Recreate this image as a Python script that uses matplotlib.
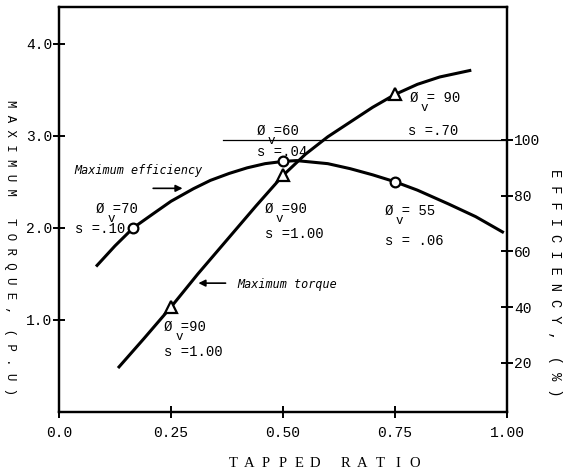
import numpy as np
import matplotlib.pyplot as plt

plt.rcParams['font.family'] = ['Liberation Mono', 'DejaVu Sans Mono']

# data
TorqueX = [0.134, 0.19, 0.25, 0.31, 0.375, 0.44, 0.50, 0.55, 0.60, 0.65, 0.70, 0.75, 0.80, 0.85, 0.917]
Torque = [0.49, 0.80, 1.14, 1.50, 1.87, 2.24, 2.57, 2.80, 2.99, 3.15, 3.31, 3.45, 3.56, 3.64, 3.71]
TorqueMarkX = [0.25, 0.50, 0.75]
TorqueMark = [1.14, 2.57, 3.45]

EffX = [0.085, 0.125, 0.166, 0.21, 0.25, 0.30, 0.338, 0.38, 0.42, 0.46, 0.50, 0.53, 0.60, 0.65, 0.70, 0.75, 0.80, 0.87, 0.93, 0.99]
Eff = [55, 62, 68.5, 73.5, 78, 82.5, 85.5, 88, 90, 91.5, 92.3, 92.6, 91.5, 89.7, 87.5, 85, 82, 77, 72.5, 67]
EffMarkX = [0.166, 0.50, 0.75]
EffMark = [68.5, 92.3, 85]

xTicks = [0.0, 0.25, 0.50, 0.75, 1.00]
xTickLabels = ["0.0", "0.25", "0.50", "0.75", "1.00"]
yTicks = [1.0, 2.0, 3.0, 4.0]
effTicks = [20, 40, 60, 80, 100]

# operating point labels: phi value, s value
PhiVals = ["=70", "=60", "=90", "= 55", "= 90", "=90"]
SVals = ["s =.10", "s =.04", "s =1.00", "s = .06", "s =.70", "s =1.00"]

fig = plt.figure(figsize=(5.64, 4.74), dpi=100)
ax = fig.add_axes([0.1046, 0.1308, 0.7943, 0.8544])
ax2 = ax.twinx()

# curves
ax.plot(TorqueX, Torque, color="black", lw=2.2, zorder=3)
ax.plot(TorqueMarkX, TorqueMark, ls="none", marker="^", ms=8, mfc="white",
        mec="black", mew=1.6, zorder=4)
ax2.plot(EffX, Eff, color="black", lw=2.2, zorder=3)
ax2.plot(EffMarkX, EffMark, ls="none", marker="o", ms=7, mfc="white",
         mec="black", mew=1.6, zorder=4)
ax2.plot([0.365, 1.0], [100, 100], color="black", lw=0.9)

ax.set_xlim(0, 1.0)
ax.set_ylim(0, 4.4)
ax2.set_ylim(2.4, 147.7)

ax.set_xticks(xTicks, xTickLabels)
ax.set_yticks(yTicks, ["1.0", "2.0", "3.0", "4.0"])
ax2.set_yticks(effTicks, [str(t) for t in effTicks])
for a in (ax, ax2):
    a.tick_params(direction="inout", length=8, width=1.4, labelsize=10.5)
    for s in a.spines.values():
        s.set_linewidth(1.6)
ax.tick_params(axis="x", pad=6)
ax.tick_params(axis="y", pad=1)
ax2.tick_params(axis="y", pad=1)

# axis titles, letter spaced like the typed original
for i, ch in enumerate("TAPPED"):
    fig.text((233 + i * 16.4) / 564, 0.023, ch, ha="center", va="center",
             fontsize=10.5, family="Liberation Serif")
for i, ch in enumerate("RATIO"):
    fig.text((345 + i * 17.5) / 564, 0.023, ch, ha="center", va="center",
             fontsize=10.5, family="Liberation Serif")
fig.text(0.018, 0.477, "M A X I M U M   T O R Q U E ,  ( P . U )", rotation=-90,
         ha="center", va="center", fontsize=8.9)
fig.text(0.984, 0.403, "E F F I C I E N C Y ,  ( % )", rotation=-90,
         ha="center", va="center", fontsize=9.8)

# annotations
def Phi(a, x, y, val, sx, sy, s):
    a.text(x, y, "Ø " + val, fontsize=10, ha="left", va="center")
    a.text(x + 0.025, y - 0.11, "v", fontsize=9, ha="left", va="center")
    a.text(sx, sy, s, fontsize=10, ha="left", va="center")

Phi(ax, 0.083, 2.21, PhiVals[0], 0.036, 1.99, SVals[0])
Phi(ax, 0.441, 3.05, PhiVals[1], 0.441, 2.82, SVals[1])
Phi(ax, 0.459, 2.21, PhiVals[2], 0.459, 1.93, SVals[2])
Phi(ax, 0.727, 2.18, PhiVals[3], 0.727, 1.86, SVals[3])
Phi(ax, 0.783, 3.41, PhiVals[4], 0.779, 3.05, SVals[4])
Phi(ax, 0.235, 0.93, PhiVals[5], 0.235, 0.65, SVals[5])

ax.text(0.035, 2.62, "Maximum efficiency", style="italic", fontsize=8.5, va="center",
        family="DejaVu Sans Mono")
ax.annotate("", xy=(0.282, 2.43), xytext=(0.204, 2.43),
            arrowprops=dict(arrowstyle="-|>", color="black", lw=1.2))
ax.text(0.398, 1.39, "Maximum torque", style="italic", fontsize=8.5, va="center",
        family="DejaVu Sans Mono")
ax.annotate("", xy=(0.305, 1.40), xytext=(0.378, 1.40),
            arrowprops=dict(arrowstyle="-|>", color="black", lw=1.2))

plt.savefig("out.png", dpi=100)
